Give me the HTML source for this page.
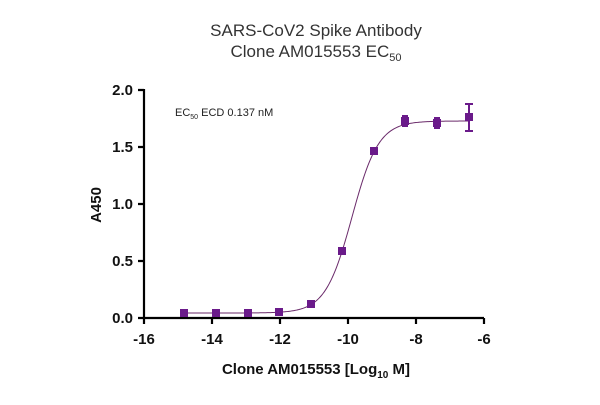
<!DOCTYPE html>
<html><head><style>
body{margin:0;background:#fff;}
text{font-family:"Liberation Sans",Arial,sans-serif;}
</style></head><body>
<svg id="s" width="600" height="400" xmlns="http://www.w3.org/2000/svg">
<text x="316" y="36" font-size="17" text-anchor="middle" fill="#333">SARS-CoV2 Spike Antibody</text>
<text x="316" y="57" font-size="17" text-anchor="middle" fill="#333">Clone AM015553 EC<tspan font-size="11" dy="4">50</tspan></text>
<g stroke="#000" stroke-width="2.2" fill="none">
<path d="M144 89 V318 H484"/>
<path d="M138 90H144 M138 147H144 M138 204H144 M138 261H144 M138 318H144"/>
<path d="M144 318V324 M212 318V324 M280 318V324 M348 318V324 M416 318V324 M484 318V324"/>
</g>
<g font-size="15" font-weight="bold" fill="#111" text-anchor="end">
<text x="133" y="95">2.0</text><text x="133" y="152">1.5</text><text x="133" y="209">1.0</text><text x="133" y="266">0.5</text><text x="133" y="323">0.0</text>
</g>
<g font-size="15" font-weight="bold" fill="#111" text-anchor="middle">
<text x="144" y="344">-16</text><text x="212" y="344">-14</text><text x="280" y="344">-12</text><text x="348" y="344">-10</text><text x="416" y="344">-8</text><text x="484" y="344">-6</text>
</g>
<text x="316" y="374" font-size="15" font-weight="bold" text-anchor="middle" fill="#111">Clone AM015553 [Log<tspan font-size="10" dy="4">10</tspan><tspan dy="-4"> M]</tspan></text>
<text transform="translate(101,205) rotate(-90)" font-size="15" font-weight="bold" text-anchor="middle" fill="#111">A450</text>
<text x="175" y="116" font-size="11" fill="#222">EC<tspan font-size="7" dy="3">50</tspan><tspan dy="-3"> ECD 0.137 nM</tspan></text>
<path id="c" fill="none" stroke="#6a2a6a" stroke-width="1"/>
<g stroke="#6a1a8a" stroke-width="2" fill="none">
<path d="M405 116V126 M402 116H408 M402 126H408 M437 118V128 M434 118H440 M434 128H440 M469 104V131 M465 104H473 M465 131H473"/>
</g>
<g fill="#6a1a8a" id="pts"></g>
</svg>
<script>
var d="";for(var x=184;x<=469;x+=1){var y=313-192/(1+Math.exp(-(x-352)/13.3));d+=(x==184?"M":"L")+x+" "+y.toFixed(2);}
document.getElementById("c").setAttribute("d",d);
var p=[[184,313],[216,313],[248,313],[279,312],[311,304],[342,251],[374,151],[405,121],[437,123],[469,117]];
var g=document.getElementById("pts"),h="";
p.forEach(function(q){h+='<rect x="'+(q[0]-4)+'" y="'+(q[1]-4)+'" width="8" height="8"/>';});
g.innerHTML=h;
</script>
</body></html>
